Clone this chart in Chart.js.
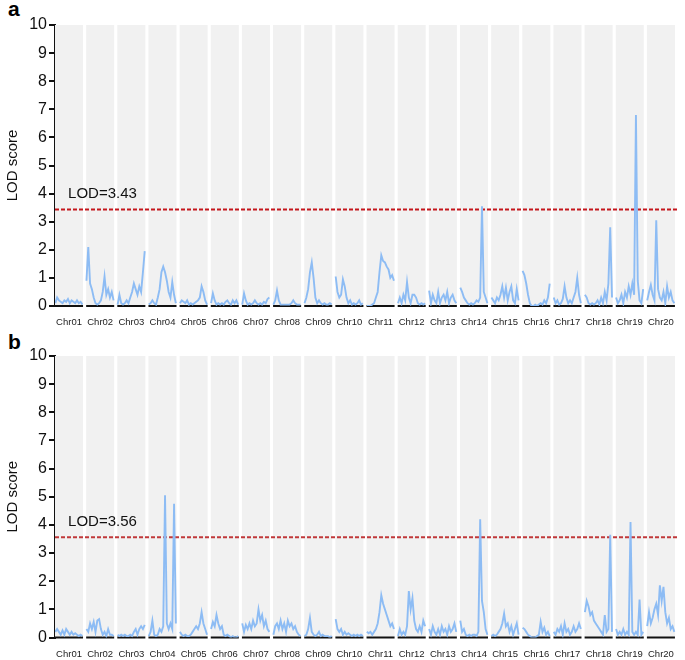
<!DOCTYPE html>
<html>
<head>
<meta charset="utf-8">
<script src="https://cdn.jsdelivr.net/npm/chart.js@4.4.1/dist/chart.umd.min.js"></script>
<style>
    html, body { margin: 0; padding: 0; background: #fff; }
    #wrap { position: relative; width: 685px; height: 660px; overflow: hidden; }
    canvas { position: absolute; left: 0; }
    .panel-label { position: absolute; left: 8px; font: bold 21px "Liberation Sans", Arial, sans-serif; color: #000; }
</style>
</head>
<body>
<div id="wrap">
    <div class="panel-label" style="top:-3px">a</div>
    <div class="panel-label" style="top:330px">b</div>
    <canvas id="chartA" width="685" height="330" style="top:0"></canvas>
    <canvas id="chartB" width="685" height="330" style="top:330px"></canvas>
</div>
<script>
"use strict";

// Data
const chromosomes = ['Chr01', 'Chr02', 'Chr03', 'Chr04', 'Chr05', 'Chr06', 'Chr07', 'Chr08', 'Chr09', 'Chr10',
    'Chr11', 'Chr12', 'Chr13', 'Chr14', 'Chr15', 'Chr16', 'Chr17', 'Chr18', 'Chr19', 'Chr20'];
const yTicks = [0, 1, 2, 3, 4, 5, 6, 7, 8, 9, 10];
const thresholdA = 3.43;
const thresholdB = 3.56;

// LOD scores along each chromosome, panel a
const lodA = [
    [0.1, 0.3, 0.2, 0.15, 0.1, 0.2, 0.15, 0.25, 0.1, 0.2, 0.15, 0.1, 0.2, 0.1, 0.15, 0.05],
    [0.9, 2.1, 0.8, 0.6, 0.3, 0.1, 0.05, 0.1, 0.2, 0.5, 1.05, 0.4, 0.6, 0.3, 0.5, 0.2],
    [0.05, 0.4, 0.1, 0.05, 0.1, 0.2, 0.1, 0.3, 0.5, 0.8, 0.6, 0.4, 0.7, 0.5, 1.2, 1.95],
    [0.05, 0.1, 0.2, 0.1, 0.05, 0.3, 0.6, 1.2, 1.4, 1.2, 0.9, 0.5, 0.3, 0.85, 0.4, 0.1],
    [0.1, 0.2, 0.15, 0.1, 0.2, 0.05, 0.1, 0.05, 0.1, 0.15, 0.2, 0.3, 0.7, 0.5, 0.2, 0.05],
    [0.1, 0.45, 0.2, 0.05, 0.1, 0.05, 0.1, 0.05, 0.15, 0.2, 0.1, 0.05, 0.2, 0.1, 0.2, 0.05],
    [0.05, 0.45, 0.2, 0.05, 0.1, 0.05, 0.1, 0.2, 0.1, 0.05, 0.1, 0.05, 0.15, 0.1, 0.25, 0.3],
    [0.05, 0.2, 0.55, 0.2, 0.05, 0.05, 0.05, 0.05, 0.05, 0.05, 0.1, 0.2, 0.1, 0.05, 0.05, 0.05],
    [0.1, 0.3, 0.6, 1.2, 1.55, 1.0, 0.3, 0.1, 0.2, 0.1, 0.05, 0.1, 0.05, 0.05, 0.1, 0.05],
    [1.05, 0.5, 0.3, 0.4, 0.95, 0.7, 0.3, 0.1, 0.2, 0.05, 0.1, 0.05, 0.1, 0.2, 0.05, 0.1],
    [0.0, 0.0, 0.0, 0.05, 0.1, 0.3, 0.5, 1.2, 1.8, 1.6, 1.55, 1.4, 1.3, 1.0, 1.1, 0.9],
    [0.1, 0.3, 0.1, 0.4, 0.2, 0.85, 0.3, 0.1, 0.4, 0.4, 0.3, 0.1, 0.05, 0.1, 0.05, 0.1],
    [0.55, 0.1, 0.4, 0.2, 0.1, 0.5, 0.1, 0.3, 0.4, 0.2, 0.5, 0.1, 0.3, 0.4, 0.2, 0.1],
    [0.65, 0.5, 0.3, 0.2, 0.1, 0.05, 0.1, 0.05, 0.1, 0.2, 0.15, 0.3, 3.55, 0.5, 0.3, 0.1],
    [0.3, 0.2, 0.1, 0.3, 0.2, 0.4, 0.7, 0.3, 0.65, 0.2, 0.5, 0.7, 0.2, 0.1, 0.6, 0.2],
    [1.25, 1.1, 0.8, 0.4, 0.1, 0.0, 0.0, 0.05, 0.0, 0.05, 0.1, 0.05, 0.2, 0.1, 0.3, 0.8],
    [0.3, 0.1, 0.2, 0.05, 0.1, 0.25, 0.7, 0.3, 0.1, 0.2, 0.1, 0.3, 0.5, 1.0, 0.4, 0.1],
    [0.4, 0.3, 0.1, 0.05, 0.1, 0.05, 0.1, 0.2, 0.05, 0.3, 0.1, 0.5, 0.2, 0.8, 2.8, 0.3],
    [0.3, 0.1, 0.2, 0.4, 0.1, 0.5, 0.3, 0.7, 0.4, 0.8, 0.4, 6.8, 0.9, 0.2, 0.1, 0.6],
    [0.2, 0.5, 0.75, 0.4, 0.2, 3.05, 0.6, 0.3, 0.2, 0.5, 0.1, 0.7, 0.3, 0.5, 0.2, 0.1]
];

// LOD scores along each chromosome, panel b
const lodB = [
    [0.2, 0.3, 0.2, 0.1, 0.25, 0.1, 0.3, 0.2, 0.1, 0.2, 0.1, 0.15, 0.1, 0.05, 0.1, 0.05],
    [0.3, 0.2, 0.5, 0.3, 0.55, 0.2, 0.6, 0.65, 0.3, 0.1, 0.2, 0.05, 0.3, 0.1, 0.1, 0.05],
    [0.1, 0.05, 0.1, 0.05, 0.1, 0.05, 0.05, 0.1, 0.05, 0.2, 0.3, 0.1, 0.3, 0.4, 0.3, 0.45],
    [0.05, 0.2, 0.6, 0.1, 0.05, 0.1, 0.3, 0.2, 0.4, 5.05, 0.5, 0.3, 0.5, 0.3, 4.75, 0.5],
    [0.2, 0.1, 0.05, 0.1, 0.05, 0.05, 0.1, 0.2, 0.3, 0.4, 0.3, 0.5, 0.9, 0.5, 0.3, 0.1],
    [0.3, 0.55, 0.4, 0.8, 0.5, 0.3, 0.4, 0.1, 0.05, 0.1, 0.05, 0.0, 0.05, 0.0, 0.0, 0.05],
    [0.5, 0.2, 0.45, 0.3, 0.5, 0.3, 0.6, 0.4, 0.5, 1.0, 0.6, 0.8, 0.4, 0.6, 0.3, 0.2],
    [0.1, 0.4, 0.5, 0.3, 0.6, 0.3, 0.5, 0.2, 0.6, 0.4, 0.5, 0.3, 0.4, 0.2, 0.1, 0.05],
    [0.05, 0.1, 0.3, 0.7, 0.2, 0.1, 0.05, 0.1, 0.2, 0.05, 0.1, 0.05, 0.05, 0.05, 0.0, 0.05],
    [0.65, 0.3, 0.2, 0.3, 0.1, 0.2, 0.1, 0.15, 0.1, 0.05, 0.1, 0.05, 0.1, 0.05, 0.1, 0.05],
    [0.2, 0.15, 0.2, 0.1, 0.2, 0.3, 0.5, 0.9, 1.5, 1.2, 1.0, 0.8, 0.6, 0.4, 0.5, 0.3],
    [0.05, 0.3, 0.1, 0.2, 0.1, 0.4, 1.65, 1.0, 1.4, 0.6, 0.3, 0.2, 0.4, 0.2, 0.6, 0.4],
    [0.3, 0.1, 0.4, 0.2, 0.1, 0.3, 0.1, 0.4, 0.2, 0.3, 0.1, 0.4, 0.2, 0.3, 0.5, 0.2],
    [0.6, 0.2, 0.3, 0.1, 0.05, 0.1, 0.05, 0.1, 0.1, 0.05, 0.2, 4.2, 1.3, 0.9, 0.3, 0.1],
    [0.05, 0.1, 0.05, 0.1, 0.2, 0.3, 0.5, 0.85, 0.4, 0.5, 0.2, 0.4, 0.1, 0.3, 0.5, 0.1],
    [0.35, 0.3, 0.2, 0.1, 0.05, 0.0, 0.0, 0.0, 0.05, 0.1, 0.55, 0.2, 0.35, 0.1, 0.2, 0.05],
    [0.2, 0.1, 0.3, 0.2, 0.4, 0.1, 0.5, 0.2, 0.3, 0.1, 0.2, 0.4, 0.2, 0.3, 0.5, 0.3],
    [0.9, 1.3, 1.1, 0.8, 0.9, 0.6, 0.5, 0.4, 0.3, 0.2, 0.1, 0.8, 0.2, 0.3, 3.65, 0.2],
    [0.3, 0.1, 0.2, 0.1, 0.3, 0.1, 0.2, 0.1, 4.1, 0.2, 0.1, 0.2, 0.1, 1.35, 0.1, 0.2],
    [0.4, 0.9, 0.5, 0.7, 1.0, 1.2, 0.8, 1.85, 1.3, 1.8, 0.9, 0.5, 0.7, 0.3, 0.4, 0.2]
];

const BAND = 0.9; // share of each chromosome slot that is grey (rest is the white gap)
const FONT = '"Liberation Sans", Arial, sans-serif';

// spread the values of each chromosome over its band, break the line between chromosomes
function buildSeries(lod) {
    const pts = [];
    lod.forEach((vals, i) => {
        const n = vals.length;
        vals.forEach((v, k) => pts.push({ x: i + 0.01 + k * (BAND - 0.03) / (n - 1), y: v }));
        pts.push({ x: i + BAND + 0.05, y: null });
    });
    return pts;
}

// grey bands, baseline pieces and the threshold label
const bandsPlugin = {
    id: 'bands',
    beforeDatasetsDraw(chart) {
        const { ctx, chartArea, scales: { x, y } } = chart;
        ctx.save();
        chromosomes.forEach((c, i) => {
            const x0 = x.getPixelForValue(i);
            const x1 = x.getPixelForValue(i + BAND);
            ctx.fillStyle = '#f1f1f1';
            ctx.fillRect(x0, chartArea.top, x1 - x0, chartArea.bottom - chartArea.top);
            ctx.strokeStyle = '#111';
            ctx.lineWidth = 2;
            ctx.beginPath();
            ctx.moveTo(x0, y.getPixelForValue(0));
            ctx.lineTo(x1, y.getPixelForValue(0));
            ctx.stroke();
        });
        ctx.restore();
    },
    afterDatasetsDraw(chart, args, opts) {
        const { ctx, scales: { x, y } } = chart;
        ctx.save();
        ctx.fillStyle = '#111';
        ctx.font = '15px ' + FONT;
        ctx.textBaseline = 'bottom';
        ctx.textAlign = 'left';
        ctx.fillText('LOD=' + opts.threshold.toFixed(2), x.getPixelForValue(0.42), y.getPixelForValue(opts.threshold) - 8);
        ctx.restore();
    }
};

function makeChart(canvasId, lod, threshold, redColor, top, bottom) {
    const ctx = document.getElementById(canvasId).getContext('2d');
    return new Chart(ctx, {
        type: 'line',
        data: {
            datasets: [
                {
                    data: buildSeries(lod),
                    borderColor: '#8dbcf4',
                    borderWidth: 1.9,
                    pointRadius: 0,
                    spanGaps: false,
                    tension: 0
                },
                {
                    data: [{ x: 0, y: threshold }, { x: chromosomes.length, y: threshold }],
                    borderColor: redColor,
                    borderWidth: 2,
                    borderDash: [4, 2],
                    pointRadius: 0
                }
            ]
        },
        options: {
            responsive: false,
            animation: false,
            layout: { padding: { top: top, right: 5, left: 0, bottom: 0 } },
            plugins: {
                legend: { display: false },
                tooltip: { enabled: false },
                bands: { threshold: threshold }
            },
            scales: {
                x: {
                    type: 'linear',
                    min: 0,
                    max: chromosomes.length,
                    grid: { display: false, drawTicks: false },
                    border: { display: false },
                    afterBuildTicks: s => { s.ticks = chromosomes.map((c, i) => ({ value: i + BAND / 2 })); },
                    afterFit: s => { s.height = 330 - bottom; },
                    ticks: {
                        autoSkip: false,
                        maxRotation: 0,
                        padding: 11,
                        color: '#222',
                        font: { size: 9.5, family: FONT },
                        callback: (v, idx) => chromosomes[idx]
                    }
                },
                y: {
                    min: yTicks[0],
                    max: yTicks[yTicks.length - 1],
                    afterBuildTicks: s => { s.ticks = yTicks.map(v => ({ value: v })); },
                    afterFit: s => { s.width = 55; },
                    grid: { drawOnChartArea: false, drawTicks: true, tickLength: 6, color: '#111', lineWidth: 2 },
                    border: { color: '#111', width: 2 },
                    ticks: {
                        padding: 2,
                        color: '#111',
                        font: { size: 16, family: FONT }
                    },
                    title: {
                        display: true,
                        text: 'LOD score',
                        color: '#111',
                        font: { size: 15, family: FONT }
                    }
                }
            }
        },
        plugins: [bandsPlugin]
    });
}

makeChart('chartA', lodA, thresholdA, '#c4161c', 25, 306);
makeChart('chartB', lodB, thresholdB, '#c0383a', 26, 307.5);
</script>
</body>
</html>
